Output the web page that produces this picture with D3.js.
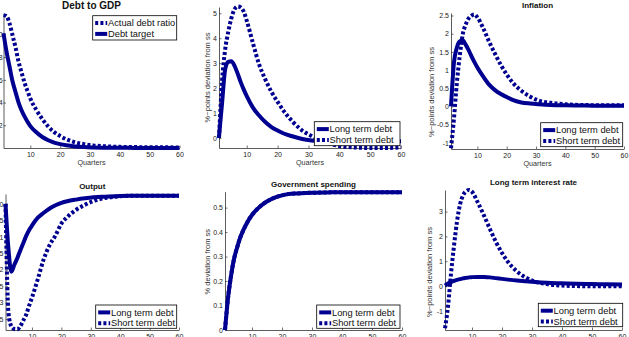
<!DOCTYPE html>
<html lang="en">
<head>
<meta charset="UTF-8">
<title>Debt shock responses</title>
<style>
  body { margin: 0; background: #fff; }
  svg { display: block; font-family: "Liberation Sans", Arial, sans-serif; }
</style>
</head>
<body>
<script src="https://d3js.org/d3.v7.min.js"></script>
<script>
const quarters = [1,2,3,4,5,6,7,8,9,10,12,14,16,18,20,22,25,28,31,35,40,45,50,55,60];

// Debt to GDP
const debtActual = [11.7,11.6,11.0,9.95,8.9,7.65,6.7,5.8,5.05,4.35,3.35,2.55,1.88,1.4,1.05,0.78,0.5,0.34,0.23,0.15,0.1,0.08,0.07,0.06,0.05];
const debtTarget = [10.1,8.5,7.2,5.9,4.95,4.05,3.35,2.8,2.33,1.93,1.38,0.97,0.68,0.48,0.34,0.24,0.14,0.08,0.05,0.03,0.015,0.01,0.005,0.003,0.002];

// unlabelled panel (top middle)
const debtLong  = [0.05,1.4,2.75,3.05,3.08,2.9,2.6,2.25,1.95,1.68,1.22,0.9,0.64,0.44,0.3,0.18,0.06,-0.04,-0.1,-0.14,-0.16,-0.16,-0.15,-0.14,-0.13];
const debtShort = [0.0,2.3,3.55,4.25,4.8,5.15,5.27,5.24,5.07,4.7,3.8,2.95,2.35,1.85,1.45,1.08,0.64,0.3,0.08,-0.15,-0.32,-0.38,-0.4,-0.4,-0.38];

// Inflation
const inflLong  = [0.0,1.2,1.62,1.79,1.82,1.7,1.55,1.38,1.22,1.07,0.82,0.6,0.45,0.34,0.26,0.18,0.11,0.08,0.06,0.04,0.03,0.025,0.02,0.02,0.02];
const inflShort = [-1.15,-0.34,0.65,1.4,1.98,2.25,2.42,2.5,2.53,2.45,2.15,1.78,1.45,1.14,0.88,0.66,0.43,0.27,0.16,0.1,0.06,0.04,0.035,0.03,0.03];

// Output
const outLong  = [0.0,-1.37,-2.06,-1.85,-1.65,-1.42,-1.2,-0.98,-0.8,-0.66,-0.42,-0.27,-0.14,-0.04,0.03,0.08,0.13,0.17,0.2,0.22,0.24,0.245,0.25,0.25,0.25];
const outShort = [0.0,-3.3,-3.72,-3.8,-3.81,-3.72,-3.55,-3.37,-3.1,-2.85,-2.28,-1.68,-1.25,-0.96,-0.6,-0.4,-0.18,-0.03,0.09,0.18,0.23,0.25,0.25,0.25,0.25];

// Government spending
const govLong  = [0.0,0.13,0.22,0.29,0.335,0.375,0.405,0.43,0.452,0.47,0.497,0.517,0.532,0.543,0.55,0.555,0.558,0.56,0.561,0.562,0.563,0.563,0.563,0.563,0.563];
const govShort = [0.0,0.13,0.22,0.29,0.335,0.375,0.405,0.43,0.452,0.47,0.497,0.517,0.532,0.543,0.55,0.555,0.558,0.56,0.561,0.562,0.563,0.563,0.563,0.563,0.563];

// Long term interest rate
const rateLong  = [0.02,0.1,0.16,0.21,0.25,0.28,0.31,0.33,0.35,0.36,0.37,0.365,0.35,0.32,0.29,0.26,0.22,0.19,0.16,0.13,0.11,0.09,0.08,0.07,0.06];
const rateShort = [-1.7,-0.82,0.5,1.62,2.6,3.28,3.65,3.82,3.87,3.8,3.35,2.84,2.29,1.77,1.33,0.97,0.59,0.34,0.18,0.08,0.02,0.0,-0.01,-0.01,-0.01];

const xTicks = [10,20,30,40,50,60];
const lineColor = '#000090';
const yLabelPts = '%\u2212points deviation from ss';

const panels = [
  { title: 'Debt to GDP', titleSize: 10, titleY: 8.5, left: 3.5, right: 179.5, top: 14, bottom: 148,
    domain: [0, 11.8], yTicks: [2,4,6,8,10], xlabel: true, pad: 0.8,
    series: [{ name: 'Actual debt ratio', values: debtActual, dotted: true },
             { name: 'Debt target', values: debtTarget, dotted: false }],
    legend: [92.7, 15.7, 84, 24.3] },
  { title: null, left: 219, right: 401, top: 7, bottom: 148,
    domain: [-0.4, 5.25], yTicks: [0,1,2,3,4,5], xlabel: true, pad: 2,
    ylabel: yLabelPts, ylabelX: 207, ylabelY: 77.5,
    series: [{ name: 'Long term debt', values: debtLong, dotted: false },
             { name: 'Short term debt', values: debtShort, dotted: true }],
    legend: [314.3, 121.7, 85.7, 24] },
  { title: 'Inflation', titleSize: 8, titleY: 8, left: 451, right: 624, top: 13, bottom: 149,
    domain: [-1.17, 2.57], yTicks: [-1,-0.5,0,0.5,1,1.5,2,2.5], xlabel: true, pad: 2,
    ylabel: yLabelPts, ylabelX: 431, ylabelY: 92,
    series: [{ name: 'Long term debt', values: inflLong, dotted: false },
             { name: 'Short term debt', values: inflShort, dotted: true }],
    legend: [540.7, 122.7, 82, 24] },
  { title: 'Output', titleSize: 8, titleY: 189, left: 5.5, right: 179, top: 194, bottom: 330,
    domain: [-3.83, 0.3], yTicks: [-3.5,-3,-2.5,-2,-1.5,-1,-0.5,0], pad: 2.2,
    series: [{ name: 'Long term debt', values: outLong, dotted: false },
             { name: 'Short term debt', values: outShort, dotted: true }],
    legend: [95.7, 305, 81, 23.3] },
  { title: 'Government spending', titleSize: 8, titleY: 186.5, left: 225, right: 402, top: 191.7, bottom: 330,
    domain: [0, 0.565], yTicks: [0,0.1,0.2,0.3,0.4,0.5], pad: 2,
    ylabel: '% deviation from ss', ylabelX: 207, ylabelY: 261.7,
    series: [{ name: 'Long term debt', values: govLong, dotted: false },
             { name: 'Short term debt', values: govShort, dotted: true }],
    legend: [316.7, 305, 83.3, 23.3] },
  { title: 'Long term interest rate', titleSize: 8, titleY: 184.5, left: 445, right: 622, top: 190, bottom: 330,
    domain: [-1.77, 3.87], yTicks: [-1,0,1,2,3], pad: 2,
    ylabel: yLabelPts, ylabelX: 429, ylabelY: 272,
    series: [{ name: 'Long term debt', values: rateLong, dotted: false },
             { name: 'Short term debt', values: rateShort, dotted: true }],
    legend: [538.3, 303.3, 84.4, 23.4] }
];

const svg = d3.select('body').append('svg')
  .attr('width', 629)
  .attr('height', 337);

function styleLine(sel, dotted) {
  sel.attr('fill', 'none')
    .attr('stroke', lineColor)
    .attr('stroke-width', 4)
    .attr('stroke-linecap', 'butt')
    .attr('stroke-dasharray', dotted ? '3,2.2' : null);
}

panels.forEach(p => {
  const x = d3.scaleLinear().domain([1, 60]).range([p.left, p.right]);
  const y = d3.scaleLinear().domain(p.domain).range([p.bottom, p.top]);
  const g = svg.append('g');

  // axes (ticks point inwards, no box)
  const xAxis = g.append('g')
    .attr('transform', `translate(0,${p.bottom})`)
    .call(d3.axisBottom(x).tickValues(xTicks).tickSizeInner(-2.5).tickSizeOuter(0).tickPadding(4));
  const yAxis = g.append('g')
    .attr('transform', `translate(${p.left},0)`)
    .call(d3.axisLeft(y).tickValues(p.yTicks).tickSizeInner(-2.5).tickSizeOuter(0).tickPadding(p.pad)
      .tickFormat(d => String(d)));
  [xAxis, yAxis].forEach(a => {
    a.select('.domain').attr('stroke', '#333').attr('stroke-width', 0.8);
    a.selectAll('.tick line').attr('stroke', '#333').attr('stroke-width', 0.7);
    a.selectAll('.tick text').attr('font-size', 7).attr('fill', '#222')
      .attr('font-family', '"Liberation Sans", Arial, sans-serif');
  });

  // response lines
  p.series.forEach(s => {
    const line = d3.line()
      .x((d, i) => x(quarters[i]))
      .y(d => y(d))
      .curve(d3.curveMonotoneX);
    g.append('path').datum(s.values).attr('d', line).call(styleLine, s.dotted);
  });

  if (p.title) {
    g.append('text')
      .attr('x', (p.left + p.right) / 2)
      .attr('y', p.titleY)
      .attr('text-anchor', 'middle')
      .attr('font-weight', 'bold')
      .attr('font-size', p.titleSize)
      .attr('fill', '#111')
      .text(p.title);
  }
  if (p.xlabel) {
    g.append('text')
      .attr('x', (p.left + p.right) / 2)
      .attr('y', p.bottom + 17)
      .attr('text-anchor', 'middle')
      .attr('font-size', 7.2)
      .attr('fill', '#333')
      .text('Quarters');
  }
  if (p.ylabel) {
    g.append('text')
      .attr('transform', `translate(${p.ylabelX},${p.ylabelY}) rotate(-90)`)
      .attr('text-anchor', 'middle')
      .attr('dy', '0.35em')
      .attr('font-size', 7.5)
      .attr('fill', '#333')
      .text(p.ylabel);
  }

  // legend
  const [lx, ly, lw, lh] = p.legend;
  const lg = g.append('g');
  lg.append('rect')
    .attr('x', lx).attr('y', ly).attr('width', lw).attr('height', lh)
    .attr('fill', '#fff').attr('stroke', '#000').attr('stroke-width', 0.8);
  p.series.forEach((s, i) => {
    const cy = ly + 7.4 + i * 10.8;
    lg.append('line')
      .attr('x1', lx + 2.5).attr('x2', lx + 14.5)
      .attr('y1', cy).attr('y2', cy)
      .call(styleLine, s.dotted);
    lg.append('text')
      .attr('x', lx + 15.3)
      .attr('y', cy)
      .attr('dy', '0.35em')
      .attr('font-size', 9.3)
      .attr('fill', '#111')
      .text(s.name);
  });
});
</script>
</body>
</html>
